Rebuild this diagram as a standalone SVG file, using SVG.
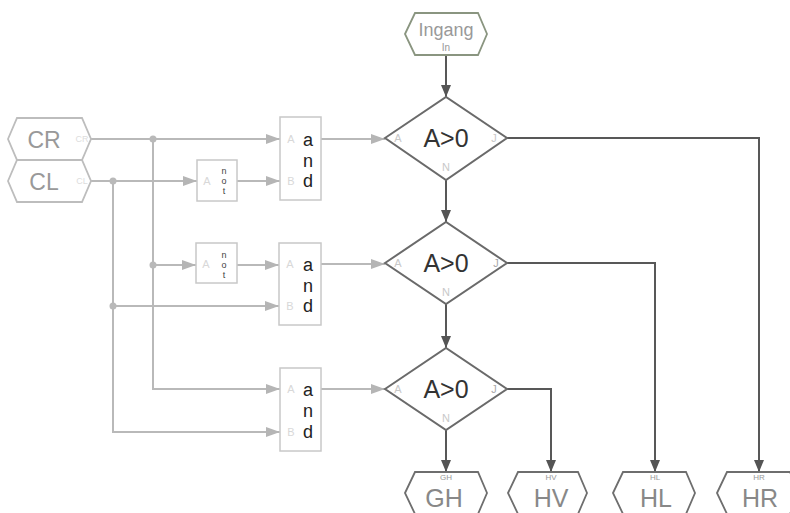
<svg xmlns="http://www.w3.org/2000/svg" width="790" height="513" viewBox="0 0 790 513">
<style>
.lt{fill:none;stroke:#b9b9b9;stroke-width:2}
.dk{fill:none;stroke:#585858;stroke-width:2}
.box{fill:#fff;stroke:#c8c8c8;stroke-width:1.5}
.dia{fill:#fff;stroke:#6a6a6a;stroke-width:2}
.hexo{fill:#fff;stroke:#6e6e6e;stroke-width:1.8}
.hexi{fill:#fff;stroke:#bdbdbd;stroke-width:1.8}
text{font-family:"Liberation Sans",Arial,sans-serif}
.and{font-size:18px;fill:#222;text-anchor:middle}
.not{font-size:9px;fill:#444;text-anchor:middle}
.pin{font-size:11px;fill:#d8d8d8;text-anchor:middle}
.cmp{font-size:25px;fill:#333;text-anchor:middle}
.dpin{font-size:11px;fill:#c8c8c8;text-anchor:middle}
.big{font-size:25px;fill:#888;text-anchor:middle}
.sm{font-size:8px;fill:#999;text-anchor:middle}
.dot{fill:#b9b9b9}
</style>
<defs>
<marker id="al" markerUnits="userSpaceOnUse" markerWidth="14" markerHeight="10" refX="14" refY="5" orient="auto"><path d="M0,0 L14,5 L0,10 Z" fill="#b5b5b5"/></marker>
<marker id="ad" markerUnits="userSpaceOnUse" markerWidth="12" markerHeight="10" refX="12" refY="5" orient="auto"><path d="M0,0 L12,5 L0,10 Z" fill="#555"/></marker>
</defs>
<g id="connectors">
<path class="lt" d="M91,139 H280" marker-end="url(#al)"/>
<path class="lt" d="M153,139 V389 H280" marker-end="url(#al)"/>
<path class="lt" d="M153,265 H196" marker-end="url(#al)"/>
<path class="lt" d="M237,265 H279" marker-end="url(#al)"/>
<path class="lt" d="M91,181 H197" marker-end="url(#al)"/>
<path class="lt" d="M113,181 V432 H280" marker-end="url(#al)"/>
<path class="lt" d="M113,306 H279" marker-end="url(#al)"/>
<path class="lt" d="M237,181 H280" marker-end="url(#al)"/>
<path class="lt" d="M321,139 H385" marker-end="url(#al)"/>
<path class="lt" d="M321,264 H385" marker-end="url(#al)"/>
<path class="lt" d="M321,389 H385" marker-end="url(#al)"/>
<circle class="dot" cx="153" cy="139" r="3.5"/>
<circle class="dot" cx="113" cy="181" r="3.5"/>
<circle class="dot" cx="153" cy="265" r="3.5"/>
<circle class="dot" cx="113" cy="306" r="3.5"/>
<path class="dk" d="M446,55 V97" marker-end="url(#ad)"/>
<path class="dk" d="M446,180 V222" marker-end="url(#ad)"/>
<path class="dk" d="M446,304 V348" marker-end="url(#ad)"/>
<path class="dk" d="M446,430 V472" marker-end="url(#ad)"/>
<path class="dk" d="M507,389 H551 V472" marker-end="url(#ad)"/>
<path class="dk" d="M507,263 H655 V472" marker-end="url(#ad)"/>
<path class="dk" d="M507,138 H759 V472" marker-end="url(#ad)"/>
</g>
<g id="ingang">
<polygon class="hexo" style="stroke:#8a9580" points="405,34 415,13 478,13 487,34 478,55 415,55"/>
<text x="446" y="36" style="font-size:18px;fill:#999;text-anchor:middle">Ingang</text>
<text x="446" y="51" style="font-size:10px;fill:#999;text-anchor:middle">In</text>
</g>
<g id="cr">
<polygon class="hexi" points="8,139 17,118 82,118 91,139 82,160 17,160"/>
<text x="44" y="148" style="font-size:23px;fill:#999;text-anchor:middle">CR</text>
<text x="82" y="142" style="font-size:9px;fill:#ddd;text-anchor:middle">CR</text>
</g>
<g id="cl">
<polygon class="hexi" points="8,181 17,160 82,160 91,181 82,202 17,202"/>
<text x="44" y="190" style="font-size:23px;fill:#999;text-anchor:middle">CL</text>
<text x="82" y="184" style="font-size:9px;fill:#ddd;text-anchor:middle">CL</text>
</g>
<g id="not1">
<rect class="box" x="197" y="160" width="40" height="41"/>
<text x="207" y="185" class="pin">A</text>
<text x="224" y="174" class="not">n</text>
<text x="224" y="184" class="not">o</text>
<text x="224" y="194" class="not">t</text>
</g>
<g id="and1">
<rect class="box" x="280" y="117" width="41" height="83"/>
<text x="291" y="143" class="pin">A</text>
<text x="291" y="185" class="pin">B</text>
<text x="308" y="146" class="and">a</text>
<text x="308" y="167" class="and">n</text>
<text x="308" y="187" class="and">d</text>
</g>
<g id="not2">
<rect class="box" x="196" y="243" width="41" height="40"/>
<text x="206" y="268" class="pin">A</text>
<text x="224" y="258" class="not">n</text>
<text x="224" y="268" class="not">o</text>
<text x="224" y="278" class="not">t</text>
</g>
<g id="and2">
<rect class="box" x="279" y="243" width="42" height="82"/>
<text x="290" y="268" class="pin">A</text>
<text x="290" y="310" class="pin">B</text>
<text x="308" y="271" class="and">a</text>
<text x="308" y="292" class="and">n</text>
<text x="308" y="312" class="and">d</text>
</g>
<g id="and3">
<rect class="box" x="280" y="368" width="41" height="83"/>
<text x="291" y="393" class="pin">A</text>
<text x="291" y="436" class="pin">B</text>
<text x="308" y="396" class="and">a</text>
<text x="308" y="417" class="and">n</text>
<text x="308" y="438" class="and">d</text>
</g>
<g id="cmp1">
<polygon class="dia" points="385,138 446,97 507,138 446,180"/>
<text x="446" y="147" class="cmp">A&gt;0</text>
<text x="398" y="142" class="dpin">A</text>
<text x="494" y="142" class="dpin">J</text>
<text x="446" y="171" class="dpin">N</text>
</g>
<g id="cmp2">
<polygon class="dia" points="385,263 446,222 507,263 446,304"/>
<text x="446" y="272" class="cmp">A&gt;0</text>
<text x="398" y="267" class="dpin">A</text>
<text x="496" y="267" class="dpin" style="fill:#aaa">J</text>
<text x="446" y="296" class="dpin">N</text>
</g>
<g id="cmp3">
<polygon class="dia" points="385,389 446,348 507,389 446,430"/>
<text x="446" y="398" class="cmp">A&gt;0</text>
<text x="398" y="393" class="dpin">A</text>
<text x="494" y="393" class="dpin" style="fill:#aaa">J</text>
<text x="446" y="422" class="dpin">N</text>
</g>
<g id="gh">
<polygon class="hexo" points="405,493 415,472 478,472 487,493 478,514 415,514"/>
<text x="446" y="480" class="sm">GH</text>
<text x="444" y="507" class="big">GH</text>
</g>
<g id="hv">
<polygon class="hexo" points="508,493 518,472 578,472 587,493 578,514 518,514"/>
<text x="551" y="480" class="sm">HV</text>
<text x="551" y="507" class="big">HV</text>
</g>
<g id="hl">
<polygon class="hexo" points="613,493 623,472 686,472 695,493 686,514 623,514"/>
<text x="655" y="480" class="sm">HL</text>
<text x="656" y="507" class="big">HL</text>
</g>
<g id="hr">
<polygon class="hexo" points="717,493 727,472 790,472 799,493 790,514 727,514"/>
<text x="759" y="480" class="sm">HR</text>
<text x="760" y="507" class="big">HR</text>
</g>
</svg>
